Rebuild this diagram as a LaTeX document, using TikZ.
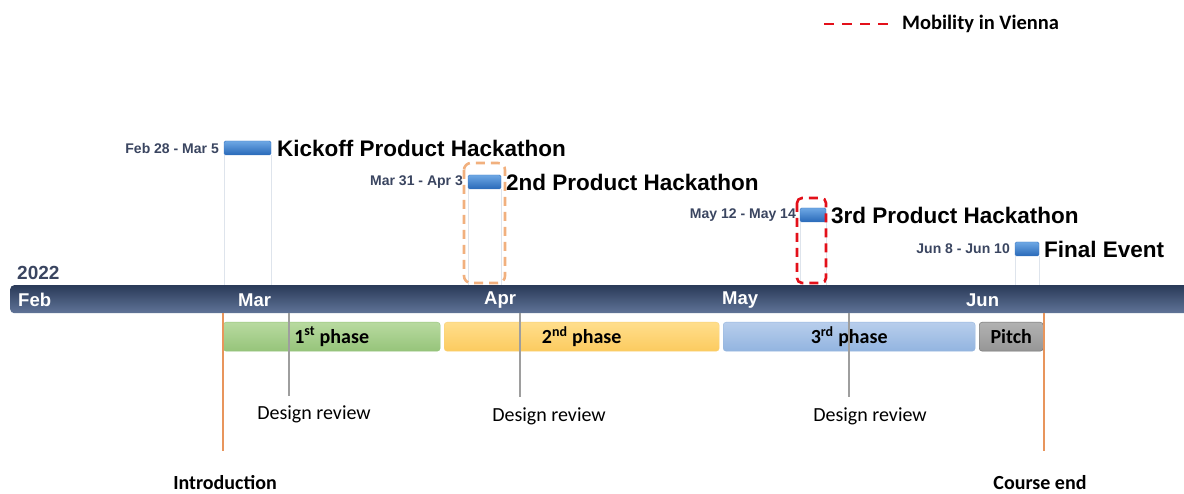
\documentclass[tikz,border=0pt]{standalone}
\usepackage{fontspec}
\setmainfont{Liberation Sans}
\newfontfamily\calib{Carlito}
\usetikzlibrary{
  positioning
  , calc
}
\definecolor{slate}{HTML}{3A4560}
\definecolor{barorange}{HTML}{E8955C}
\definecolor{hiorange}{HTML}{F1B07E}
\definecolor{mobred}{HTML}{E3101A}

\begin{document}
\begin{tikzpicture}[x=1pt, y=-1pt,
    msbar/.style={rectangle, inner sep=0pt, outer sep=0pt,
      minimum height=14pt, rounded corners=1.5pt,
      top color={rgb,255:red,110;green,168;blue,228},
      bottom color={rgb,255:red,40;green,105;blue,185},
      draw={rgb,255:red,60;green,120;blue,195}, line width=0.4pt},
    datelbl/.style={font=\bfseries\fontsize{14}{16}\selectfont, text=slate,
      inner sep=0pt},
    mstitle/.style={font=\bfseries\fontsize{22.5}{26}\selectfont, inner sep=0pt},
    month/.style={font=\bfseries\fontsize{18.5}{20}\selectfont, text=white,
      anchor=west, inner sep=0pt},
    phase/.style={rectangle, rounded corners=3pt, minimum height=29pt,
      inner sep=0pt, font=\calib\bfseries\fontsize{20}{22}\selectfont},
    guide/.style={draw={rgb,255:red,222;green,228;blue,236}, line width=1pt},
    edge/.style={draw=barorange, line width=2pt},
    review/.style={draw=black!38, line width=1.6pt},
    revlbl/.style={font=\calib\fontsize{20}{22}\selectfont, inner sep=0pt},
    endlbl/.style={font=\calib\bfseries\fontsize{20}{22}\selectfont, inner sep=0pt},
  ]
  \useasboundingbox (0,0) rectangle (1184,494);

  % time axis
  \node [rectangle, rounded corners=4pt, inner sep=0pt,
    minimum width=1200pt, minimum height=28pt, anchor=north west,
    top color={rgb,255:red,42;green,58;blue,88},
    bottom color={rgb,255:red,96;green,116;blue,152}] (axis) at (10,285) {};
  \node [font=\bfseries\fontsize{19}{20}\selectfont, text=slate,
    anchor=west, inner sep=0pt] (year) at (17,273) {2022};
  \node [month] (feb) at (18,300) {Feb};
  \node [month] (mar) at (238,300) {Mar};
  \node [month] (apr) at (484,300) {Apr};
  \node [month] (may) at (722,300) {May};
  \node [month] (jun) at (966,300) {Jun};

  % milestones
  \node [msbar, minimum width=47pt] (kick) at (247.5,148) {};
  \node [datelbl, left=5pt of kick] (kickD) {Feb 28 - Mar 5};
  \node [mstitle, right=6pt of kick] (kickT) {Kickoff Product Hackathon};
  \draw [guide] (kick.south west) -- (kick.south west |- axis.north);
  \draw [guide] (kick.south east) -- (kick.south east |- axis.north);

  \node [msbar, minimum width=33pt] (hack2) at (484.5,182) {};
  \node [datelbl, left=5pt of hack2] (hack2D) {Mar 31 - Apr 3};
  \node [mstitle, right=5pt of hack2] (hack2T) {2nd Product Hackathon};
  \draw [guide] (hack2.south west) -- (hack2.south west |- axis.north);
  \draw [guide] (hack2.south east) -- (hack2.south east |- axis.north);

  \node [msbar, minimum width=26pt] (hack3) at (813,215) {};
  \node [datelbl, left=4pt of hack3] (hack3D) {May 12 - May 14};
  \node [mstitle, right=5pt of hack3] (hack3T) {3rd Product Hackathon};
  \draw [guide] (hack3.south west) -- (hack3.south west |- axis.north);
  \draw [guide] (hack3.south east) -- (hack3.south east |- axis.north);

  \node [msbar, minimum width=24pt] (final) at (1027,249) {};
  \node [datelbl, left=5pt of final] (finalD) {Jun 8 - Jun 10};
  \node [mstitle, right=5pt of final] (finalT) {Final Event};
  \draw [guide] (final.south west) -- (final.south west |- axis.north);
  \draw [guide] (final.south east) -- (final.south east |- axis.north);

  % highlights
  \draw [hiorange, line width=2.6pt, dash pattern=on 9pt off 6pt,
    rounded corners=7pt] (464,163) rectangle (505,283);
  \draw [mobred, line width=2.6pt, dash pattern=on 9pt off 6pt,
    rounded corners=5pt] (797,198) rectangle (826,283);

  % legend
  \coordinate (legA) at (824,24);
  \coordinate (legB) at (890,24);
  \draw [mobred, line width=2.6pt, dash pattern=on 10pt off 8pt] (legA) -- (legB);
  \node [font=\calib\bfseries\fontsize{20.5}{22}\selectfont,
    inner sep=0pt, right=12pt of legB] (legT) {Mobility in Vienna};

  % phases
  \node [phase, minimum width=217pt, anchor=north west,
    top color={rgb,255:red,184;green,218;blue,160},
    bottom color={rgb,255:red,150;green,196;blue,122},
    draw={rgb,255:red,150;green,196;blue,125}] (ph1) at (223,322)
    {1\textsuperscript{st} phase};
  \node [phase, minimum width=275pt, anchor=north west,
    top color={rgb,255:red,255;green,222;blue,140},
    bottom color={rgb,255:red,252;green,203;blue,95},
    draw={rgb,255:red,248;green,208;blue,120}] (ph2) at (444,322)
    {2\textsuperscript{nd} phase};
  \node [phase, minimum width=252pt, anchor=north west,
    top color={rgb,255:red,184;green,206;blue,236},
    bottom color={rgb,255:red,146;green,180;blue,224},
    draw={rgb,255:red,150;green,182;blue,222}] (ph3) at (723,322)
    {3\textsuperscript{rd} phase};
  \node [phase, minimum width=64pt, anchor=north west,
    top color={rgb,255:red,178;green,178;blue,178},
    bottom color={rgb,255:red,150;green,150;blue,150},
    draw={rgb,255:red,110;green,110;blue,110}] (pitch) at (979,322)
    {Pitch};

  % course edges
  \coordinate (intro) at (223,451);
  \coordinate (cend) at (1044,451);
  \draw [edge] (intro |- axis.south) -- (intro);
  \draw [edge] (cend |- axis.south) -- (cend);
  \node [endlbl] (introT) at (225,483) {Introduction};
  \node [endlbl] (cendT) at (1040,483) {Course end};

  % design reviews
  \coordinate (rv1) at (289,396);
  \coordinate (rv2) at (520,397);
  \coordinate (rv3) at (849,397);
  \draw [review] (rv1 |- axis.south) -- (rv1);
  \draw [review] (rv2 |- axis.south) -- (rv2);
  \draw [review] (rv3 |- axis.south) -- (rv3);
  \node [revlbl] (rv1T) at (314,414) {Design review};
  \node [revlbl] (rv2T) at (549,416) {Design review};
  \node [revlbl] (rv3T) at (870,416) {Design review};
\end{tikzpicture}
\end{document}
